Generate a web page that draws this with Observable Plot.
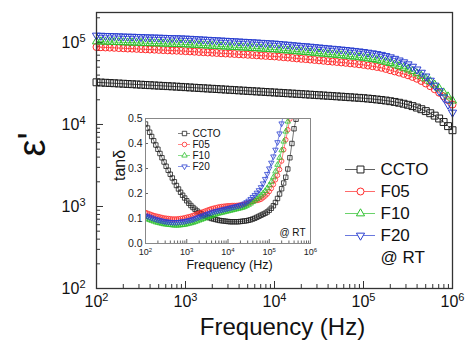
<!DOCTYPE html>
<html><head><meta charset="utf-8">
<script src="https://cdn.jsdelivr.net/npm/d3@7"></script>
<script src="https://cdn.jsdelivr.net/npm/@observablehq/plot@0.6"></script>
<style>
body{margin:0;background:#fff;}
#wrap{position:relative;width:465px;height:348px;}
#wrap > svg{position:absolute;}
</style></head><body><div id="wrap"></div>
<script>
// Frequencies (Hz), 20 points per decade
const freq = [100,112,126,141,158,178,200,224,251,282,316,355,398,447,501,562,631,708,794,891,
 1000,1122,1259,1413,1585,1778,1995,2239,2512,2818,3162,3548,3981,4467,5012,5623,6310,7079,7943,8913,
 10000,11220,12589,14125,15849,17783,19953,22387,25119,28184,31623,35481,39811,44668,50119,56234,63096,70795,79433,89125,
 100000,112202,125893,141254,158489,177828,199526,223872,251189,281838,316228,354813,398107,446684,501187,562341,630957,707946,794328,891251,1000000];

const seriesNames = ["CCTO","F05","F10","F20"];

// Main plot: dielectric constant ε'
const epsCCTO = [32700,32480,32260,32040,31830,31610,31400,31190,30980,30770,
 30560,30350,30150,29940,29740,29540,29340,29140,28940,28740,
 28500,28290,28080,27870,27660,27450,27250,27050,26850,26650,
 26450,26250,26050,25860,25670,25480,25290,25100,24920,24730,
 24550,24370,24180,24000,23820,23640,23460,23280,23100,22930,
 22750,22570,22390,22210,22030,21850,21670,21480,21300,21120,
 20940,20700,20460,20180,19910,19590,19230,18840,18410,17910,
 17380,16750,16070,15350,14550,13710,12820,11830,10720,9550,
 8510];
const epsF05 = [88000,87500,86950,86600,86100,85500,85000,84400,84200,83600,
 83100,82500,82000,81700,81200,80700,80200,79600,79400,78900,
 78300,77800,77200,76600,76100,75500,75000,74500,73900,73400,
 72900,72400,71800,71300,70800,70300,69700,69100,68600,68100,
 67600,66900,66100,65500,64700,63900,63200,62700,61900,61200,
 60500,59800,59100,58400,57800,57100,56500,55700,55000,54200,
 53300,52300,51400,50300,49200,47600,45900,44400,42900,41400,
 39800,38000,36100,33900,31600,29300,26900,24400,22100,19800,
 17500];
const epsF10 = [102800,102400,101900,101600,101200,100700,100300,99700,99600,99100,
 98600,98100,97700,97500,97000,96600,96200,95700,95500,95100,
 94600,94000,93300,92600,92100,91400,90800,90200,89500,88900,
 88300,87700,87100,86500,85900,85300,84700,83900,83300,82800,
 82200,81300,80400,79600,78700,77800,76900,76200,75300,74500,
 73600,72800,71900,71100,70300,69500,68700,67800,66900,65900,
 64800,63700,62600,61200,59800,57900,55900,53600,51200,49000,
 46800,44500,41900,39100,36300,33500,30500,27500,24500,21900,
 19500];
const epsF20 = [121600,121100,120500,120200,119700,119100,118600,118000,117800,117200,
 116700,116100,115600,115300,114800,114300,113800,113200,113000,112500,
 111900,111200,110400,109600,108900,108100,107400,106700,105900,105200,
 104500,103800,103000,102300,101600,100900,100200,99300,98600,97900,
 97300,96200,95100,94200,93100,92000,91000,90200,89100,88100,
 87100,86100,85100,84100,83200,82200,81300,80200,79100,78000,
 76700,75300,74000,72400,70800,68500,66100,63400,60500,57500,
 54300,50800,47000,42900,38600,34300,29900,25500,21400,17500,
 14000];

// Inset: tanδ (null = above the plotted range)
const tanCCTO = [0.478,0.462,0.445,0.428,0.411,0.394,0.377,0.360,0.343,0.326,
 0.309,0.293,0.277,0.262,0.247,0.232,0.218,0.205,0.193,0.182,
 0.171,0.161,0.152,0.144,0.137,0.130,0.124,0.119,0.114,0.110,
 0.106,0.103,0.100,0.098,0.096,0.094,0.092,0.091,0.090,0.089,
 0.088,0.087,0.087,0.087,0.087,0.087,0.088,0.089,0.090,0.091,
 0.093,0.095,0.098,0.101,0.105,0.109,0.113,0.117,0.121,0.126,
 0.133,0.141,0.151,0.164,0.180,0.198,0.219,0.242,0.265,0.298,
 0.343,0.400,0.459,0.497,0.540,null,null,null,null,null,
 null];
const tanF05 = [0.124,0.121,0.118,0.115,0.112,0.110,0.108,0.106,0.104,0.102,
 0.101,0.100,0.099,0.098,0.098,0.098,0.099,0.100,0.101,0.103,
 0.105,0.107,0.109,0.112,0.115,0.118,0.121,0.124,0.127,0.130,
 0.133,0.136,0.139,0.141,0.143,0.145,0.147,0.148,0.149,0.150,
 0.151,0.151,0.152,0.152,0.152,0.153,0.154,0.155,0.157,0.159,
 0.162,0.165,0.168,0.172,0.172,0.174,0.177,0.183,0.190,0.198,
 0.208,0.220,0.236,0.255,0.273,0.296,0.330,0.375,0.415,0.455,
 0.498,0.545,null,null,null,null,null,null,null,null,
 null];
const tanF10 = [0.100,0.097,0.094,0.091,0.088,0.085,0.083,0.081,0.079,0.077,
 0.076,0.075,0.074,0.073,0.072,0.072,0.072,0.073,0.074,0.075,
 0.077,0.079,0.081,0.083,0.086,0.089,0.092,0.095,0.098,0.101,
 0.104,0.107,0.110,0.113,0.116,0.119,0.121,0.123,0.125,0.127,
 0.129,0.131,0.133,0.135,0.137,0.139,0.141,0.143,0.146,0.150,
 0.155,0.160,0.166,0.172,0.178,0.185,0.193,0.201,0.210,0.221,
 0.233,0.247,0.265,0.288,0.315,0.343,0.373,0.408,0.448,0.488,
 0.530,null,null,null,null,null,null,null,null,null,
 null];
const tanF20 = [0.112,0.109,0.106,0.103,0.100,0.097,0.095,0.093,0.091,0.089,
 0.088,0.087,0.086,0.085,0.085,0.085,0.086,0.087,0.088,0.089,
 0.091,0.093,0.095,0.097,0.100,0.103,0.106,0.109,0.112,0.115,
 0.118,0.121,0.124,0.127,0.129,0.131,0.133,0.135,0.137,0.139,
 0.141,0.143,0.145,0.147,0.149,0.151,0.153,0.156,0.160,0.165,
 0.171,0.178,0.186,0.194,0.203,0.213,0.225,0.240,0.258,0.278,
 0.300,0.323,0.348,0.375,0.405,0.440,0.480,0.522,null,null,
 null,null,null,null,null,null,null,null,null,null,
 null];

// Tick values
const xMajor = [1e2,1e3,1e4,1e5,1e6];
const xMinor = [200,300,400,500,600,700,800,900,2000,3000,4000,5000,6000,7000,8000,9000,
 20000,30000,40000,50000,60000,70000,80000,90000,200000,300000,400000,500000,600000,700000,800000,900000];
const yMajor = [1e2,1e3,1e4,1e5];
const yMinor = [200,300,400,500,600,700,800,900,2000,3000,4000,5000,6000,7000,8000,9000,
 20000,30000,40000,50000,60000,70000,80000,90000,200000];
const tanTicks = [0,0.1,0.2,0.3,0.4,0.5];
const yTop = 232000;

const FONT = '"Liberation Sans", Arial, Helvetica, sans-serif';
const SQ3 = Math.sqrt(3);
const triUp = {draw(c, size){const s=Math.sqrt(size)*0.6824,t=s/2,u=s*SQ3/2;c.moveTo(0,-s);c.lineTo(u,t);c.lineTo(-u,t);c.closePath();}};
const triDown = {draw(c, size){const s=Math.sqrt(size)*0.6824,t=s/2,u=s*SQ3/2;c.moveTo(0,s);c.lineTo(u,-t);c.lineTo(-u,-t);c.closePath();}};

const colors = ["#1e1e1e","#ff2b2b","#2cc02c","#2a3fd0"];
const symbols = ["square","circle",triUp,triDown];
const mainR = [3.9,3.5,3.9,3.9];
const insetR = [2.5,2.3,2.6,2.6];
const epsData = [epsCCTO,epsF05,epsF10,epsF20];
const tanData = [tanCCTO,tanF05,tanF10,tanF20];

function rows(arr){ return freq.map((f,i)=>({f, v: arr[i]})).filter(d=>d.v!=null); }
const powLabel = d => "10^" + Math.round(Math.log10(d));

function supify(svg, size, dy){
  svg.querySelectorAll("text").forEach(t=>{
    const m = /^10\^(\d+)$/.exec(t.textContent);
    if(!m) return;
    t.textContent = "10";
    const ts = document.createElementNS("http://www.w3.org/2000/svg","tspan");
    ts.setAttribute("font-size", size);
    ts.setAttribute("dy", dy);
    ts.textContent = m[1];
    t.appendChild(ts);
  });
}

const wrap = document.getElementById("wrap");

// ---------- main chart ----------
const mainMarks = [];
seriesNames.forEach((n,k)=>{
  const d = rows(epsData[k]);
  mainMarks.push(Plot.line(d,{x:"f",y:"v",stroke:colors[k],strokeWidth:0.8}));
  mainMarks.push(Plot.dot(d,{x:"f",y:"v",stroke:colors[k],symbol:symbols[k],r:mainR[k],strokeWidth:1,fill:"none"}));
});
const main = Plot.plot({
  width:465, height:348, marginLeft:96, marginRight:13, marginTop:12, marginBottom:60,
  style:{fontFamily:FONT, fontSize:"16px", color:"#111", background:"transparent", overflow:"visible"},
  x:{type:"log", domain:[1e2,1e6], label:null},
  y:{type:"log", domain:[1e2,yTop], label:null},
  marks:[
    Plot.axisX({ticks:xMinor, tickSize:-4, tickFormat:()=>"", stroke:"#333", label:null}),
    Plot.axisX({ticks:xMajor, tickSize:-7, tickPadding:14, tickFormat:powLabel, fontSize:16, stroke:"#333", label:null}),
    Plot.axisY({ticks:yMinor, tickSize:-4, tickFormat:()=>"", stroke:"#333", label:null}),
    Plot.axisY({ticks:yMajor, tickSize:-7, tickPadding:18, tickFormat:powLabel, fontSize:16, stroke:"#333", label:null}),
    Plot.text(["Frequency (Hz)"],{frameAnchor:"bottom", dx:8, dy:46, fontSize:24, fill:"#111"}),
    Plot.text(["ε'"],{frameAnchor:"left", dx:-64, dy:6, rotate:-90, fontSize:38, fill:"#111"}),
    ...mainMarks,
    Plot.frame({stroke:"#333", strokeWidth:1.3})
  ]
});
supify(main, "11px", "-0.55em");
main.style.left="0px"; main.style.top="0px";
wrap.appendChild(main);

// ---------- inset ----------
const insetMarks = [];
seriesNames.forEach((n,k)=>{
  const d = rows(tanData[k]);
  insetMarks.push(Plot.line(d,{x:"f",y:"v",stroke:colors[k],strokeWidth:0.6,clip:"frame"}));
  insetMarks.push(Plot.dot(d,{x:"f",y:"v",stroke:colors[k],symbol:symbols[k],r:insetR[k],strokeWidth:0.8,fill:"none",clip:"frame"}));
});
const inset = Plot.plot({
  width:215, height:165, marginLeft:40, marginRight:10, marginTop:6, marginBottom:34,
  style:{fontFamily:FONT, fontSize:"10px", color:"#222", background:"transparent", overflow:"visible"},
  x:{type:"log", domain:[1e2,1e6], label:null},
  y:{domain:[0,0.5], label:null},
  marks:[
    Plot.axisX({ticks:xMinor, tickSize:-2.5, tickFormat:()=>"", stroke:"#666", label:null}),
    Plot.axisX({ticks:xMajor, tickSize:-4, tickPadding:9.5, tickFormat:powLabel, fontSize:9, stroke:"#666", label:null}),
    Plot.axisY({ticks:tanTicks, tickSize:-3, tickPadding:6, tickFormat:d3.format(".1f"), fontSize:10.5, stroke:"#666", label:null}),
    Plot.text(["tanδ"],{frameAnchor:"left", dx:-26, dy:0, rotate:-90, fontSize:16, fill:"#111"}),
    Plot.text(["Frequency (Hz)"],{frameAnchor:"bottom", dx:1.5, dy:25, fontSize:12.5, fill:"#111"}),
    Plot.text(["@ RT"],{frameAnchor:"bottom-right", dx:-5, dy:-8, textAnchor:"end", fontSize:10, fill:"#111"}),
    ...insetMarks,
    Plot.frame({stroke:"#888", strokeWidth:1})
  ]
});
supify(inset, "6px", "-0.5em");
inset.style.left="105px"; inset.style.top="112px";
wrap.appendChild(inset);

// ---------- main legend ----------
const legLabels = [...seriesNames, "@ RT"];
const legMarks = [];
seriesNames.forEach((n,k)=>{
  legMarks.push(Plot.ruleY([n],{y:d=>d, x1:0, x2:1, stroke:colors[k], strokeWidth:1, strokeOpacity:0.7}));
  legMarks.push(Plot.dot([n],{y:d=>d, x:0.5, stroke:colors[k], symbol:symbols[k], r:mainR[k], strokeWidth:1, fill:"white"}));
});
const leg = Plot.plot({
  width:120, height:115, margin:0,
  style:{fontFamily:FONT, fontSize:"17px", color:"#111", background:"transparent", overflow:"visible"},
  x:{domain:[0,1], range:[5,35], axis:null},
  y:{type:"point", domain:legLabels, range:[13,102], padding:0, axis:null},
  marks:[...legMarks, Plot.text(legLabels,{x:1, y:d=>d, dx:5, textAnchor:"start", fontSize:17, fill:"#111"})]
});
leg.style.left="340px"; leg.style.top="155px";
wrap.appendChild(leg);

// ---------- inset legend ----------
const ilegMarks = [];
seriesNames.forEach((n,k)=>{
  ilegMarks.push(Plot.ruleY([n],{y:d=>d, x1:0, x2:1, stroke:colors[k], strokeWidth:0.8, strokeOpacity:0.7}));
  ilegMarks.push(Plot.dot([n],{y:d=>d, x:0.5, stroke:colors[k], symbol:symbols[k], r:insetR[k], strokeWidth:0.8, fill:"white"}));
});
const ileg = Plot.plot({
  width:60, height:50, margin:0,
  style:{fontFamily:FONT, fontSize:"10px", color:"#111", background:"transparent", overflow:"visible"},
  x:{domain:[0,1], range:[8,20], axis:null},
  y:{type:"point", domain:seriesNames, range:[7.7,43.3], padding:0, axis:null},
  marks:[...ilegMarks, Plot.text(seriesNames,{x:1, y:d=>d, dx:2, textAnchor:"start", fontSize:10, fill:"#111"})]
});
ileg.style.left="170px"; ileg.style.top="124px";
wrap.appendChild(ileg);
</script></body></html>
